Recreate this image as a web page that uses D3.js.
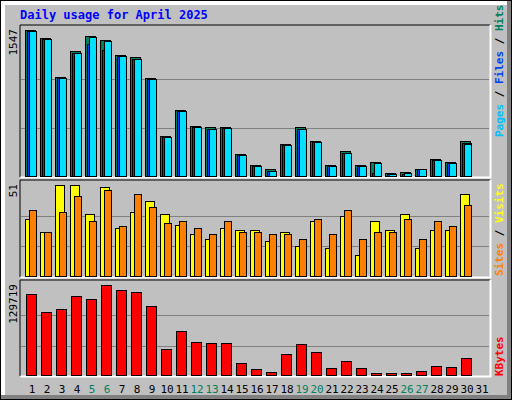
<!DOCTYPE html>
<html><head><meta charset="utf-8">
<script src="https://cdn.jsdelivr.net/npm/d3@7"></script>
<style>body{margin:0;background:#fff}svg{display:block}</style>
</head><body>
<script>
// 数据
const days = d3.range(1, 32)
const weekends = [5, 6, 12, 13, 19, 20, 26, 27]
const hits = [1547,1463,1053,1326,1484,1442,1284,1263,1042,432,705,537,526,526,242,126,84,347,526,379,126,274,126,158,42,53,84,189,158,379]
const files = [1537,1453,1043,1305,1400,1337,1274,1242,1032,421,695,526,505,516,232,116,63,337,505,368,116,253,116,42,32,32,84,179,147,358]
const pages = [1537,1453,1042,1305,1474,1432,1274,1242,1032,421,695,526,505,516,232,116,63,337,505,368,116,253,116,147,32,42,84,179,147,347]
const visits = [32,25,51,51,35,50,27,36,42,35,29,24,21,27,26,26,20,25,17,31,16,34,12,31,26,35,16,26,26,46]
const sites = [37,25,36,45,31,48,28,46,39,30,31,27,24,31,25,25,24,24,21,32,24,37,21,25,25,32,21,31,28,40]
const kbytes = [117400,91700,95700,114700,109300,129719,123000,120300,99900,37800,63700,48600,47200,47200,18900,9400,5400,31000,45900,33700,10800,21600,10800,4000,4000,4000,6700,14800,13500,25600]

const svg = d3.select("body").append("svg").attr("width", 512).attr("height", 400)
  .style("font-family", "'DejaVu Sans Mono', monospace")

// 外框
svg.append("rect").attr("x", 0).attr("y", 0).attr("width", 512).attr("height", 400).attr("fill", "#000")
svg.append("rect").attr("x", 1).attr("y", 1).attr("width", 510).attr("height", 398).attr("fill", "#808080")
svg.append("rect").attr("x", 1).attr("y", 1).attr("width", 506).attr("height", 394).attr("fill", "#fff")
svg.append("rect").attr("x", 5).attr("y", 5).attr("width", 502).attr("height", 390).attr("fill", "#c0c0c0")

svg.append("text").attr("x", 20).attr("y", 19).text("Daily usage for April 2025")
  .attr("fill", "#0000ff").attr("font-weight", "bold").attr("font-size", 12)

const x = d3.scaleLinear().domain([1, 31]).range([25, 475])

function panel(y0, y1, max, label) {
  const g = svg.append("g")
  g.append("rect").attr("x", 20).attr("y", y0).attr("width", 470).attr("height", y1 - y0).attr("fill", "#c0c0c0")
  g.append("path").attr("d", `M20,${y1}V${y0}H490`).attr("stroke", "#000").attr("fill", "none")
  g.append("path").attr("d", `M20.5,${y1 + 0.5}H490.5V${y0}`).attr("stroke", "#fff").attr("stroke-width", 2).attr("fill", "none")
  const y = d3.scaleLinear().domain([0, max]).range([y1, y0 + 5])
  ;[1 / 3, 2 / 3].forEach(f => {
    g.append("line").attr("x1", 21).attr("x2", 489).attr("y1", Math.round(y(max * f)) + 0.5).attr("y2", Math.round(y(max * f)) + 0.5)
      .attr("stroke", "#808080")
  })
  g.append("text").attr("transform", `translate(17,${y0 + 4}) rotate(-90)`).attr("text-anchor", "end")
    .attr("font-size", 11).attr("fill", "#000").text(label)
  return { g, y }
}

function bars(p, data, dx, w, color) {
  p.g.selectAll(null).data(data).join("rect")
    .attr("x", (d, i) => x(i + 1) + dx + 0.5).attr("width", w)
    .attr("y", d => Math.round(p.y(d)) + 0.5).attr("height", d => p.y(0) - Math.round(p.y(d)) - 1)
    .attr("fill", color).attr("stroke", "#000")
}

function sideLabel(parts, yBottom) {
  const t = svg.append("text").attr("transform", `translate(503,${yBottom}) rotate(-90)`)
    .attr("font-size", 11).attr("font-weight", "bold")
  parts.forEach(([s, c]) => t.append("tspan").attr("fill", c).text(s))
}

const p1 = panel(25, 177, d3.max(hits), "1547")
bars(p1, hits, 0, 10, "#00805c")
bars(p1, files, 2, 9, "#0040ff")
bars(p1, pages, 4, 7, "#00e0ff")
sideLabel([["Pages", "#00c0ff"], [" / ", "#000"], ["Files", "#0040ff"], [" / ", "#000"], ["Hits", "#00805c"]], 137)

const p2 = panel(180, 277, d3.max(visits), "51")
bars(p2, visits, 0, 9, "#ffff00")
bars(p2, sites, 4, 7, "#ff8000")
sideLabel([["Sites", "#ff8000"], [" / ", "#000"], ["Visits", "#ffff00"]], 276)

const p3 = panel(280, 376, d3.max(kbytes), "129719")
bars(p3, kbytes, 1, 10, "#ff0000")
sideLabel([["KBytes", "#ff0000"]], 376)

svg.selectAll(null).data(days).join("text")
  .attr("x", d => x(d) + 7).attr("y", 393).attr("text-anchor", "middle").attr("font-size", 11)
  .attr("fill", d => weekends.includes(d) ? "#00805c" : "#000").text(d => d)
</script>
</body></html>
